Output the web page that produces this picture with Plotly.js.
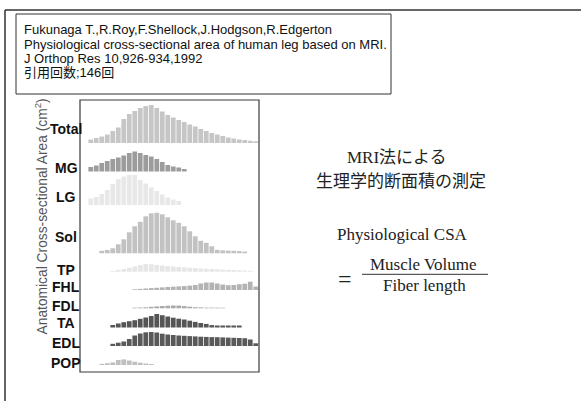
<!DOCTYPE html>
<html>
<head>
<meta charset="utf-8">
<script src="https://cdn.plot.ly/plotly-3.0.1.min.js"></script>
<style>
  html, body { margin: 0; padding: 0; background: #fff; }
  #chart { width: 581px; height: 401px; }
</style>
</head>
<body>
<div id="chart"></div>
<script>
// MRI slice index along the lower leg (proximal -> distal)
const slices = [1,2,3,4,5,6,7,8,9,10,11,12,13,14,15,16,17,18,19,20,21,22,23,24,25,26,27,28,29,30,31];

// Muscle names, top to bottom
const muscles = ['Total', 'MG', 'LG', 'Sol', 'TP', 'FHL', 'FDL', 'TA', 'EDL', 'POP'];

// Anatomical cross-sectional area per slice (relative units)
const total = [3.5,5,6.5,8.5,12,15.5,24,29,32,35,37,38,35,31.5,28,25.5,23,21,18.5,16.5,14,12,10,8.5,7,5.5,4.5,3.5,3,2.3,1.7];
const mg    = [4.5,6,8.5,10.5,12.5,14,16,18.5,20,18.5,16.5,15,12.5,9.5,6.5,5,4,2.5,null,null,null,null,null,null,null,null,null,null,null,null,null];
const lg    = [6.5,8,11,15,21,26,28.5,30,30,25,21.5,17.5,14,10.5,7.5,5.5,4,null,null,null,null,null,null,null,null,null,null,null,null,null,null];
const sol   = [null,null,2.5,3.3,5,9,14,21,27,31.5,37,40,40.5,39,36,33,30.5,27,22,17,12.5,10.5,7,3.5,3,2.7,2.5,2.2,1.7,null,null];
const tp    = [null,null,null,null,0.8,1.8,2.8,4,5.2,6.5,7.7,7.5,6.8,6.2,5.7,5.2,4.7,4.3,3.9,3.6,3.2,2.9,2.6,2.4,2.1,1.9,1.7,1.4,1.2,1,null];
const fhl   = [null,null,null,null,null,null,null,null,0.8,1.1,1.5,1.9,2.2,2.6,3,3.3,3.6,3.9,4.4,5,6.5,7.5,7.5,6.5,5.4,4.8,5,5.8,6.3,8.3,3.5];
const fdl   = [null,null,null,null,null,null,null,null,0.7,0.8,1,1.5,1.9,2.3,2.6,2.8,2.7,2.2,1.6,1.1,0.9,0.7,0.7,0.7,0.6,null,null,null,null,null,null];
const ta    = [null,null,null,null,2.5,4,5.3,6.3,7.3,8.7,10,11.5,13.5,12.3,11,9.8,8.8,8,6.8,5.6,4.5,3.6,2.4,2,2,2,2,2,null,null,null];
const edl   = [null,null,null,null,2.2,3.3,4.5,7,10.5,12.5,13.7,14,13.5,12.3,11.5,11,10.5,10.2,9.9,9.6,9.3,9.1,8.9,8.8,8.6,8.4,8.2,8,7.8,6.5,2.7];
const pop   = [null,null,1.1,1.8,2.6,5,5.6,4.5,3.3,2.3,1.5,1,null,null,null,null,null,null,null,null,null,null,null,null,null,null,null,null,null,null,null];

const series = [total, mg, lg, sol, tp, fhl, fdl, ta, edl, pop];

// ---- layout constants -------------------------------------------------
const W = 581, H = 401;
const M = { l: 80, r: 322, t: 100, b: 29 };
const PW = W - M.l - M.r, PH = H - M.t - M.b;
const SLICE_PX = 5.5;           // horizontal size of one slice
const FIRST_CENTER_PX = 10.75;  // first slice centre, from the frame's left edge

// vertical offset of each profile row and of its label (axis units)
const rowBase  = [229, 200.5, 167, 118.7, 100.3, 82, 63.7, 44.5, 26, 7];
const rowLabel = [243, 204, 175, 135.5, 102, 85, 66, 49, 29, 9];
const rowColor = ['#c6c6c6', '#9c9c9c', '#e8e8e8', '#c2c2c2', '#e6e6e6',
                  '#b3b3b3', '#a9a9a9', '#555555', '#595959', '#bfbfbf'];

// pixel -> paper helpers for the slide decorations
const px = x => (x - M.l) / PW;
const py = y => (H - M.b - y) / PH;

const traces = series.map((vals, i) => ({
  type: 'bar',
  name: muscles[i],
  x: slices,
  y: vals,
  base: rowBase[i],
  marker: { color: rowColor[i], line: { width: 0 } },
  hoverinfo: 'skip',
  showlegend: false
}));

const sans = 'Liberation Sans, Arial, sans-serif';
const serif = 'Liberation Serif, Times New Roman, serif';
const cjk = '"Noto Sans CJK JP", sans-serif';

const annotations = [];

// row labels
muscles.forEach((m, i) => annotations.push({
  text: '<b>' + m + '</b>', xref: 'paper', yref: 'y',
  x: px(66), y: rowLabel[i], xanchor: 'center', yanchor: 'middle',
  showarrow: false, font: { family: sans, size: 14, color: '#111' }
}));

// axis title
annotations.push({
  text: 'Anatomical Cross-sectional Area (cm<sup>2</sup>)',
  xref: 'paper', yref: 'paper', x: px(41), y: py(216.5),
  xanchor: 'center', yanchor: 'middle', textangle: -90, showarrow: false,
  font: { family: sans, size: 13.8, color: '#555' }
});

// reference block
const refLines = [
  ['Fukunaga T.,R.Roy,F.Shellock,J.Hodgson,R.Edgerton', 29.2],
  ['Physiological cross-sectional area of human leg based on MRI.', 44],
  ['J Orthop Res 10,926-934,1992', 58.8],
  ['引用回数;146回', 72.8]
];
refLines.forEach(([t, y]) => annotations.push({
  text: t, xref: 'paper', yref: 'paper', x: px(22), y: py(y),
  xanchor: 'left', yanchor: 'middle', showarrow: false,
  font: { family: sans + ', "Noto Sans CJK JP"', size: 13, color: '#111' }
}));

// right-hand notes
const notes = [
  { text: 'MRI法による', x: px(396.5), y: py(157.5),
    font: { family: serif + ', "Noto Sans CJK JP"', size: 17, color: '#222' } },
  { text: '生理学的断面積の測定', x: px(401), y: py(179),
    font: { family: cjk, size: 17, color: '#222' } },
  { text: 'Physiological CSA', x: px(402.5), y: py(234),
    font: { family: serif, size: 17, color: '#222' } },
  { text: 'Muscle Volume', x: px(423.3), y: py(264.7),
    font: { family: serif, size: 17, color: '#222' } },
  { text: 'Fiber length', x: px(424), y: py(285.3),
    font: { family: serif, size: 17, color: '#222' } },
  { text: '=', x: px(345), y: py(278.5),
    font: { family: serif, size: 24, color: '#222' } }
];
notes.forEach(a => annotations.push(Object.assign(a, {
  xref: 'paper', yref: 'paper', xanchor: 'center', yanchor: 'middle', showarrow: false
})));

const shapes = [
  // slide frame (top and left edges)
  { type: 'line', xref: 'paper', yref: 'paper', x0: px(5), x1: px(581), y0: py(10), y1: py(10),
    line: { color: '#333', width: 1.5 } },
  { type: 'line', xref: 'paper', yref: 'paper', x0: px(5), x1: px(5), y0: py(10), y1: py(401),
    line: { color: '#333', width: 1.5 } },
  // reference box
  { type: 'rect', xref: 'paper', yref: 'paper', x0: px(16), x1: px(391), y0: py(14), y1: py(94),
    line: { color: '#333', width: 1 } },
  // fraction bar
  { type: 'line', xref: 'paper', yref: 'paper', x0: px(362), x1: px(488), y0: py(274.3), y1: py(274.3),
    line: { color: '#333', width: 1 } },
  // plot frame
  { type: 'rect', xref: 'paper', yref: 'paper', x0: 0, x1: 1, y0: 0, y1: 1,
    line: { color: '#3a3a3a', width: 1.2 } }
];

const x0 = slices[0] - FIRST_CENTER_PX / SLICE_PX;
const layout = {
  width: W, height: H,
  margin: M,
  paper_bgcolor: '#fff', plot_bgcolor: '#fff',
  barmode: 'overlay', bargap: 0.14,
  xaxis: { range: [x0, x0 + PW / SLICE_PX],
           showgrid: false, zeroline: false, showticklabels: false, ticks: '', showline: false },
  yaxis: { range: [0, PH], showgrid: false, zeroline: false, showticklabels: false, ticks: '', showline: false },
  annotations, shapes
};

Plotly.newPlot('chart', traces, layout, { staticPlot: true, displayModeBar: false });
</script>
</body>
</html>
